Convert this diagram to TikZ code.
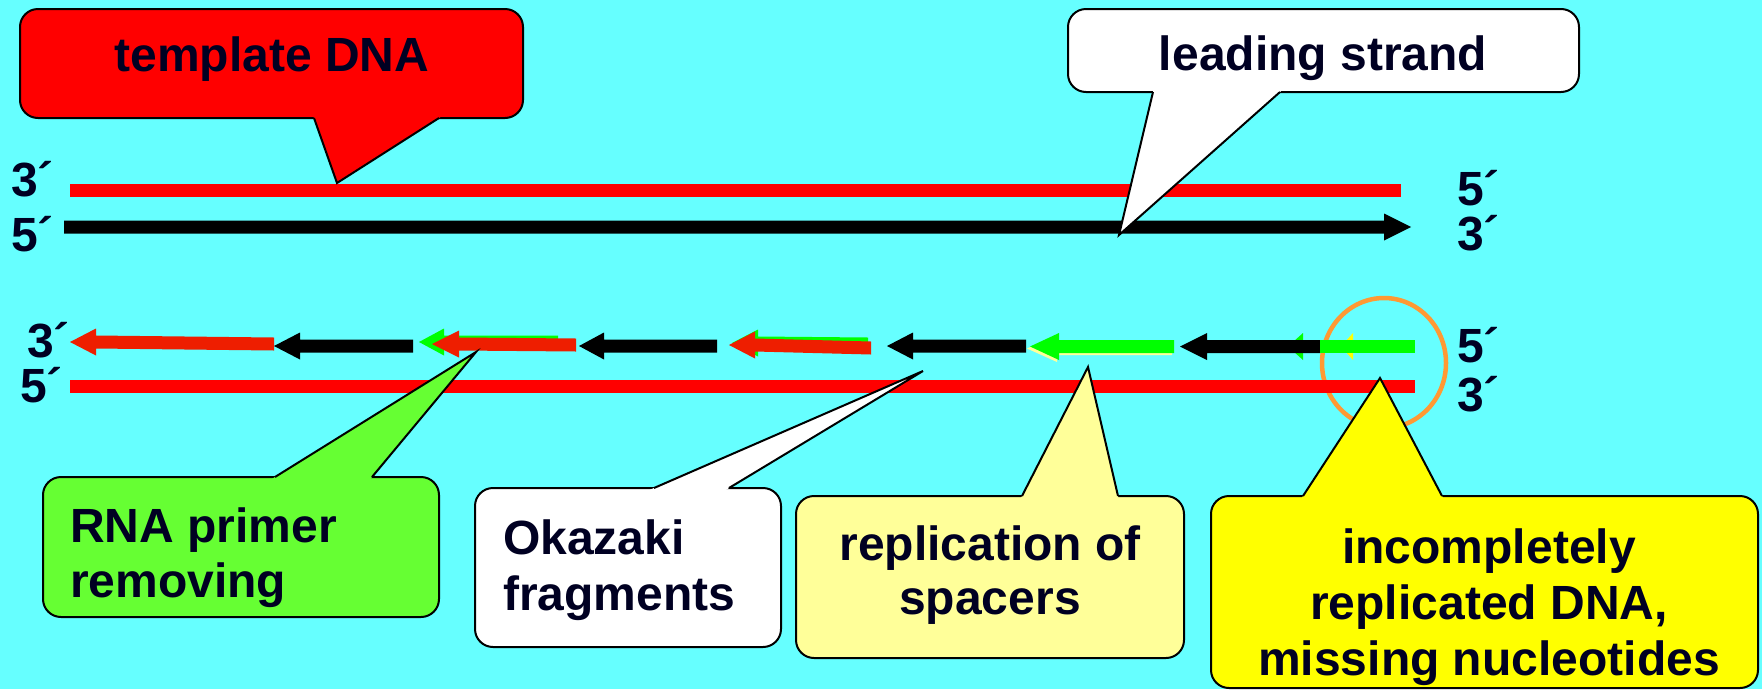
\documentclass[tikz,border=0pt]{standalone}
\usepackage{fontspec}
\setmainfont{Liberation Sans}
\definecolor{bg}{RGB}{102,255,255}
\definecolor{tplred}{RGB}{255,0,0}
\definecolor{arrred}{RGB}{238,30,0}
\definecolor{dnagreen}{RGB}{0,255,0}
\definecolor{callgreen}{RGB}{102,255,51}
\definecolor{paleyellow}{RGB}{255,255,153}
\definecolor{brightyellow}{RGB}{255,255,0}
\definecolor{ringorange}{RGB}{255,153,51}
\definecolor{ink}{RGB}{0,0,34}
% arrow: colour, tip x, head base x, tail end x, y at head, y at tail end
\newcommand\dnaArrow[6]{%
  \fill[#1] (#2,#5) -- (#3,{#5-13.5}) -- (#3,{#5-6.5}) -- (#4,{#6-6.5})
    -- (#4,{#6+6.5}) -- (#3,{#5+6.5}) -- (#3,{#5+13.5}) -- cycle;}
% box: fill, left, top, right, bottom
\newcommand\dnaBox[5]{%
  \filldraw[fill=#1, draw=black, line width=2pt, rounded corners=18pt] (#2,#3) rectangle (#4,#5);}
% tail: fill, attach y, base1 x, base2 x, tip x, tip y
\newcommand\dnaTail[6]{%
  \fill[#1] ({#3+(#3-#5)*3/abs(#2-#6)},{#2+(#2-#6)*3/abs(#2-#6)}) -- (#5,#6)
     -- ({#4+(#4-#5)*3/abs(#2-#6)},{#2+(#2-#6)*3/abs(#2-#6)}) -- cycle;
  \draw[black, line width=2pt] (#3,#2) -- (#5,#6) -- (#4,#2);}
\tikzset{lab/.style={font=\bfseries\fontsize{48pt}{54pt}\selectfont, text=ink, inner sep=0pt}}
\begin{document}
\begin{tikzpicture}[x=1pt, y=-1pt]
\fill[bg] (0,0) rectangle (1762,689);
\useasboundingbox (0,0) rectangle (1762,689);
% ring
\draw[ringorange, line width=4.5pt] (1384,363) ellipse [x radius=62, y radius=65];
% top duplex
\fill[tplred] (70,183.5) rectangle (1401,196.5);
\dnaArrow{black}{1411}{1384}{64}{227}{227}
% bottom template
\fill[tplred] (70,380) rectangle (1415,393);
% lagging strand fragments
\dnaArrow{arrred}{70}{96}{274}{342}{344}
\dnaArrow{black}{274}{300}{413}{346}{346}
\dnaArrow{dnagreen}{419}{444}{558}{342}{342}
\dnaArrow{arrred}{432}{459}{576}{344}{345}
\dnaArrow{black}{579}{604}{717}{346}{346}
\dnaArrow{dnagreen}{732}{758}{868}{343}{344}
\dnaArrow{arrred}{729}{755}{871}{345}{348}
\dnaArrow{black}{887}{913}{1026}{346}{346}
\dnaArrow{paleyellow}{1027}{1057}{1172}{348.5}{348.5}
\dnaArrow{dnagreen}{1030}{1059}{1174}{346.5}{346.5}
\fill[dnagreen] (1288,346.5) -- (1303,333) -- (1303,360) -- cycle;
\dnaArrow{black}{1180}{1207}{1320}{346.5}{346.5}
\fill[brightyellow] (1341,346.5) -- (1353,333) -- (1353,360) -- cycle;
\fill[dnagreen] (1320,340) rectangle (1415,353);
% end labels
\node[lab, anchor=base west] (t3l) at (11,196) {3´};
\node[lab, anchor=base west] (t5l) at (11,251) {5´};
\node[lab, anchor=base west] (t5r) at (1457,205) {5´};
\node[lab, anchor=base west] (t3r) at (1457,250) {3´};
\node[lab, anchor=base west] (b3l) at (27,357) {3´};
\node[lab, anchor=base west] (b5l) at (20,402) {5´};
\node[lab, anchor=base west] (b5r) at (1457,362) {5´};
\node[lab, anchor=base west] (b3r) at (1457,411) {3´};
% callouts
\dnaBox{tplred}{20}{9}{523}{118}
\dnaTail{tplred}{118}{314}{439}{337}{183}
\node[lab, anchor=base] (tmpl) at (272,71) {template DNA};
\dnaBox{white}{1068}{9}{1579}{92}
\dnaTail{white}{92}{1153}{1280}{1119}{235}
\node[lab, anchor=base] (lead) at (1323,70) {leading strand};
\dnaBox{callgreen}{43}{477}{439}{617}
\dnaTail{callgreen}{477}{275}{372}{476}{352}
\node[lab, anchor=base west] (rna1) at (70,542) {RNA primer};
\node[lab, anchor=base west] (rna2) at (70,597) {removing};
\dnaBox{white}{475}{488}{781}{647}
\dnaTail{white}{488}{654}{729}{923}{371}
\node[lab, anchor=base west] (oka1) at (503,554) {Okazaki};
\node[lab, anchor=base west] (oka2) at (503,610) {fragments};
\dnaBox{paleyellow}{796}{496}{1184}{658}
\dnaTail{paleyellow}{496}{1022}{1118}{1088}{367}
\node[lab, anchor=base] (rep1) at (990,560) {replication of};
\node[lab, anchor=base] (rep2) at (990,614) {spacers};
\dnaBox{brightyellow}{1211}{496}{1758}{688}
\dnaTail{brightyellow}{496}{1303}{1442}{1380}{378}
\node[lab, anchor=base] (inc1) at (1489,563) {incompletely};
\node[lab, anchor=base] (inc2) at (1489,619) {replicated DNA,};
\node[lab, anchor=base] (inc3) at (1489,675) {missing nucleotides};
\end{tikzpicture}
\end{document}
